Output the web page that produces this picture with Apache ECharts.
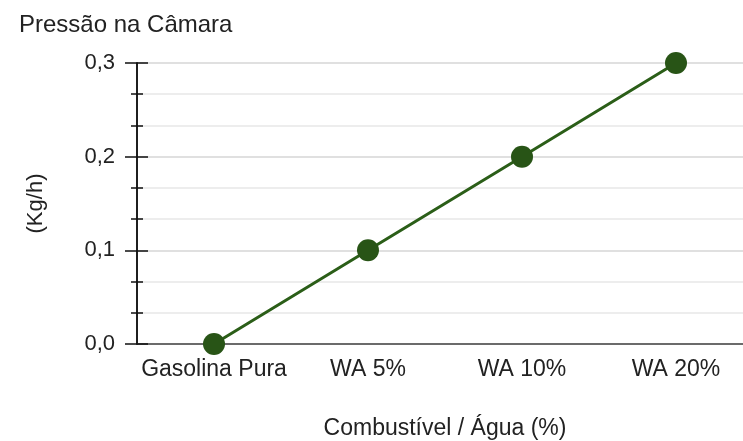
<!DOCTYPE html>
<html>
<head>
<meta charset="utf-8">
<script src="https://cdn.jsdelivr.net/npm/echarts@6/dist/echarts.min.js"></script>
<style>
  html, body { margin: 0; padding: 0; background: #fff; }
  #chart { width: 743px; height: 441px; }
</style>
</head>
<body>
<div id="chart"></div>
<script>
// dados
const categorias = ['Gasolina Pura', 'WA 5%', 'WA 10%', 'WA 20%'];
const pressao = [0.0, 0.1, 0.2, 0.3];

const fonte = '"Liberation Sans", Arial, sans-serif';
const verde = '#2b5e18';
const area = { left: 137, right: -10, top: 63, bottom: 97, containLabel: false, outerBoundsMode: 'none' };

const options = {
  animation: false,
  title: {
    text: 'Pressão na Câmara',
    left: 14,
    top: 8,
    textStyle: { color: '#222', fontFamily: fonte, fontSize: 24, fontWeight: 'normal' }
  },
  // segunda grade idêntica, só para os traços do eixo y para dentro
  grid: [Object.assign({}, area), Object.assign({}, area)],
  xAxis: [{
    type: 'category',
    gridIndex: 0,
    data: categorias,
    boundaryGap: true,
    axisLine: { lineStyle: { color: '#444', width: 1.5 } },
    axisTick: { show: false },
    axisLabel: { color: '#222', fontFamily: fonte, fontSize: 23, margin: 14, interval: 0 },
    name: 'Combustível / Água (%)',
    nameLocation: 'center',
    nameGap: 73,
    nameTextStyle: { color: '#222', fontFamily: fonte, fontSize: 23 }
  }, {
    type: 'category',
    gridIndex: 1,
    data: categorias,
    show: false
  }],
  yAxis: [{
    type: 'value',
    gridIndex: 0,
    min: 0,
    max: 0.3,
    interval: 0.1,
    axisLine: { show: true, lineStyle: { color: '#111', width: 1.5 } },
    axisTick: { show: true, length: 12, lineStyle: { color: '#111', width: 1.5 } },
    minorTick: { show: true, splitNumber: 3, length: 6, lineStyle: { color: '#111', width: 1.5 } },
    splitLine: { show: true, lineStyle: { color: '#d6d6d6', width: 1.5 } },
    minorSplitLine: { show: true, lineStyle: { color: '#e8e8e8', width: 1.5 } },
    axisLabel: {
      color: '#222',
      fontFamily: fonte,
      fontSize: 22,
      margin: 22,
      formatter: v => v.toFixed(1).replace('.', ',')
    },
    name: '(Kg/h)',
    nameLocation: 'center',
    nameGap: 90,
    nameTextStyle: { color: '#222', fontFamily: fonte, fontSize: 22 }
  }, {
    type: 'value',
    gridIndex: 1,
    min: 0,
    max: 0.3,
    interval: 0.1,
    axisLine: { show: true, lineStyle: { color: '#111', width: 1.5 } },
    axisTick: { show: true, inside: true, length: 11, lineStyle: { color: '#111', width: 1.5 } },
    minorTick: { show: true, splitNumber: 3, length: 6, lineStyle: { color: '#111', width: 1.5 } },
    splitLine: { show: false },
    axisLabel: { show: false }
  }],
  series: [{
    type: 'line',
    data: pressao,
    xAxisIndex: 0,
    yAxisIndex: 0,
    symbol: 'circle',
    symbolSize: 22,
    lineStyle: { color: verde, width: 3 },
    itemStyle: { color: '#285416' },
    clip: true,
    z: 5
  }, {
    // série vazia só para a segunda grade ser desenhada
    type: 'line',
    data: [],
    xAxisIndex: 1,
    yAxisIndex: 1,
    silent: true
  }]
};

let chart = echarts.init(document.getElementById('chart'));
chart.setOption(options, true);
</script>
</body>
</html>
